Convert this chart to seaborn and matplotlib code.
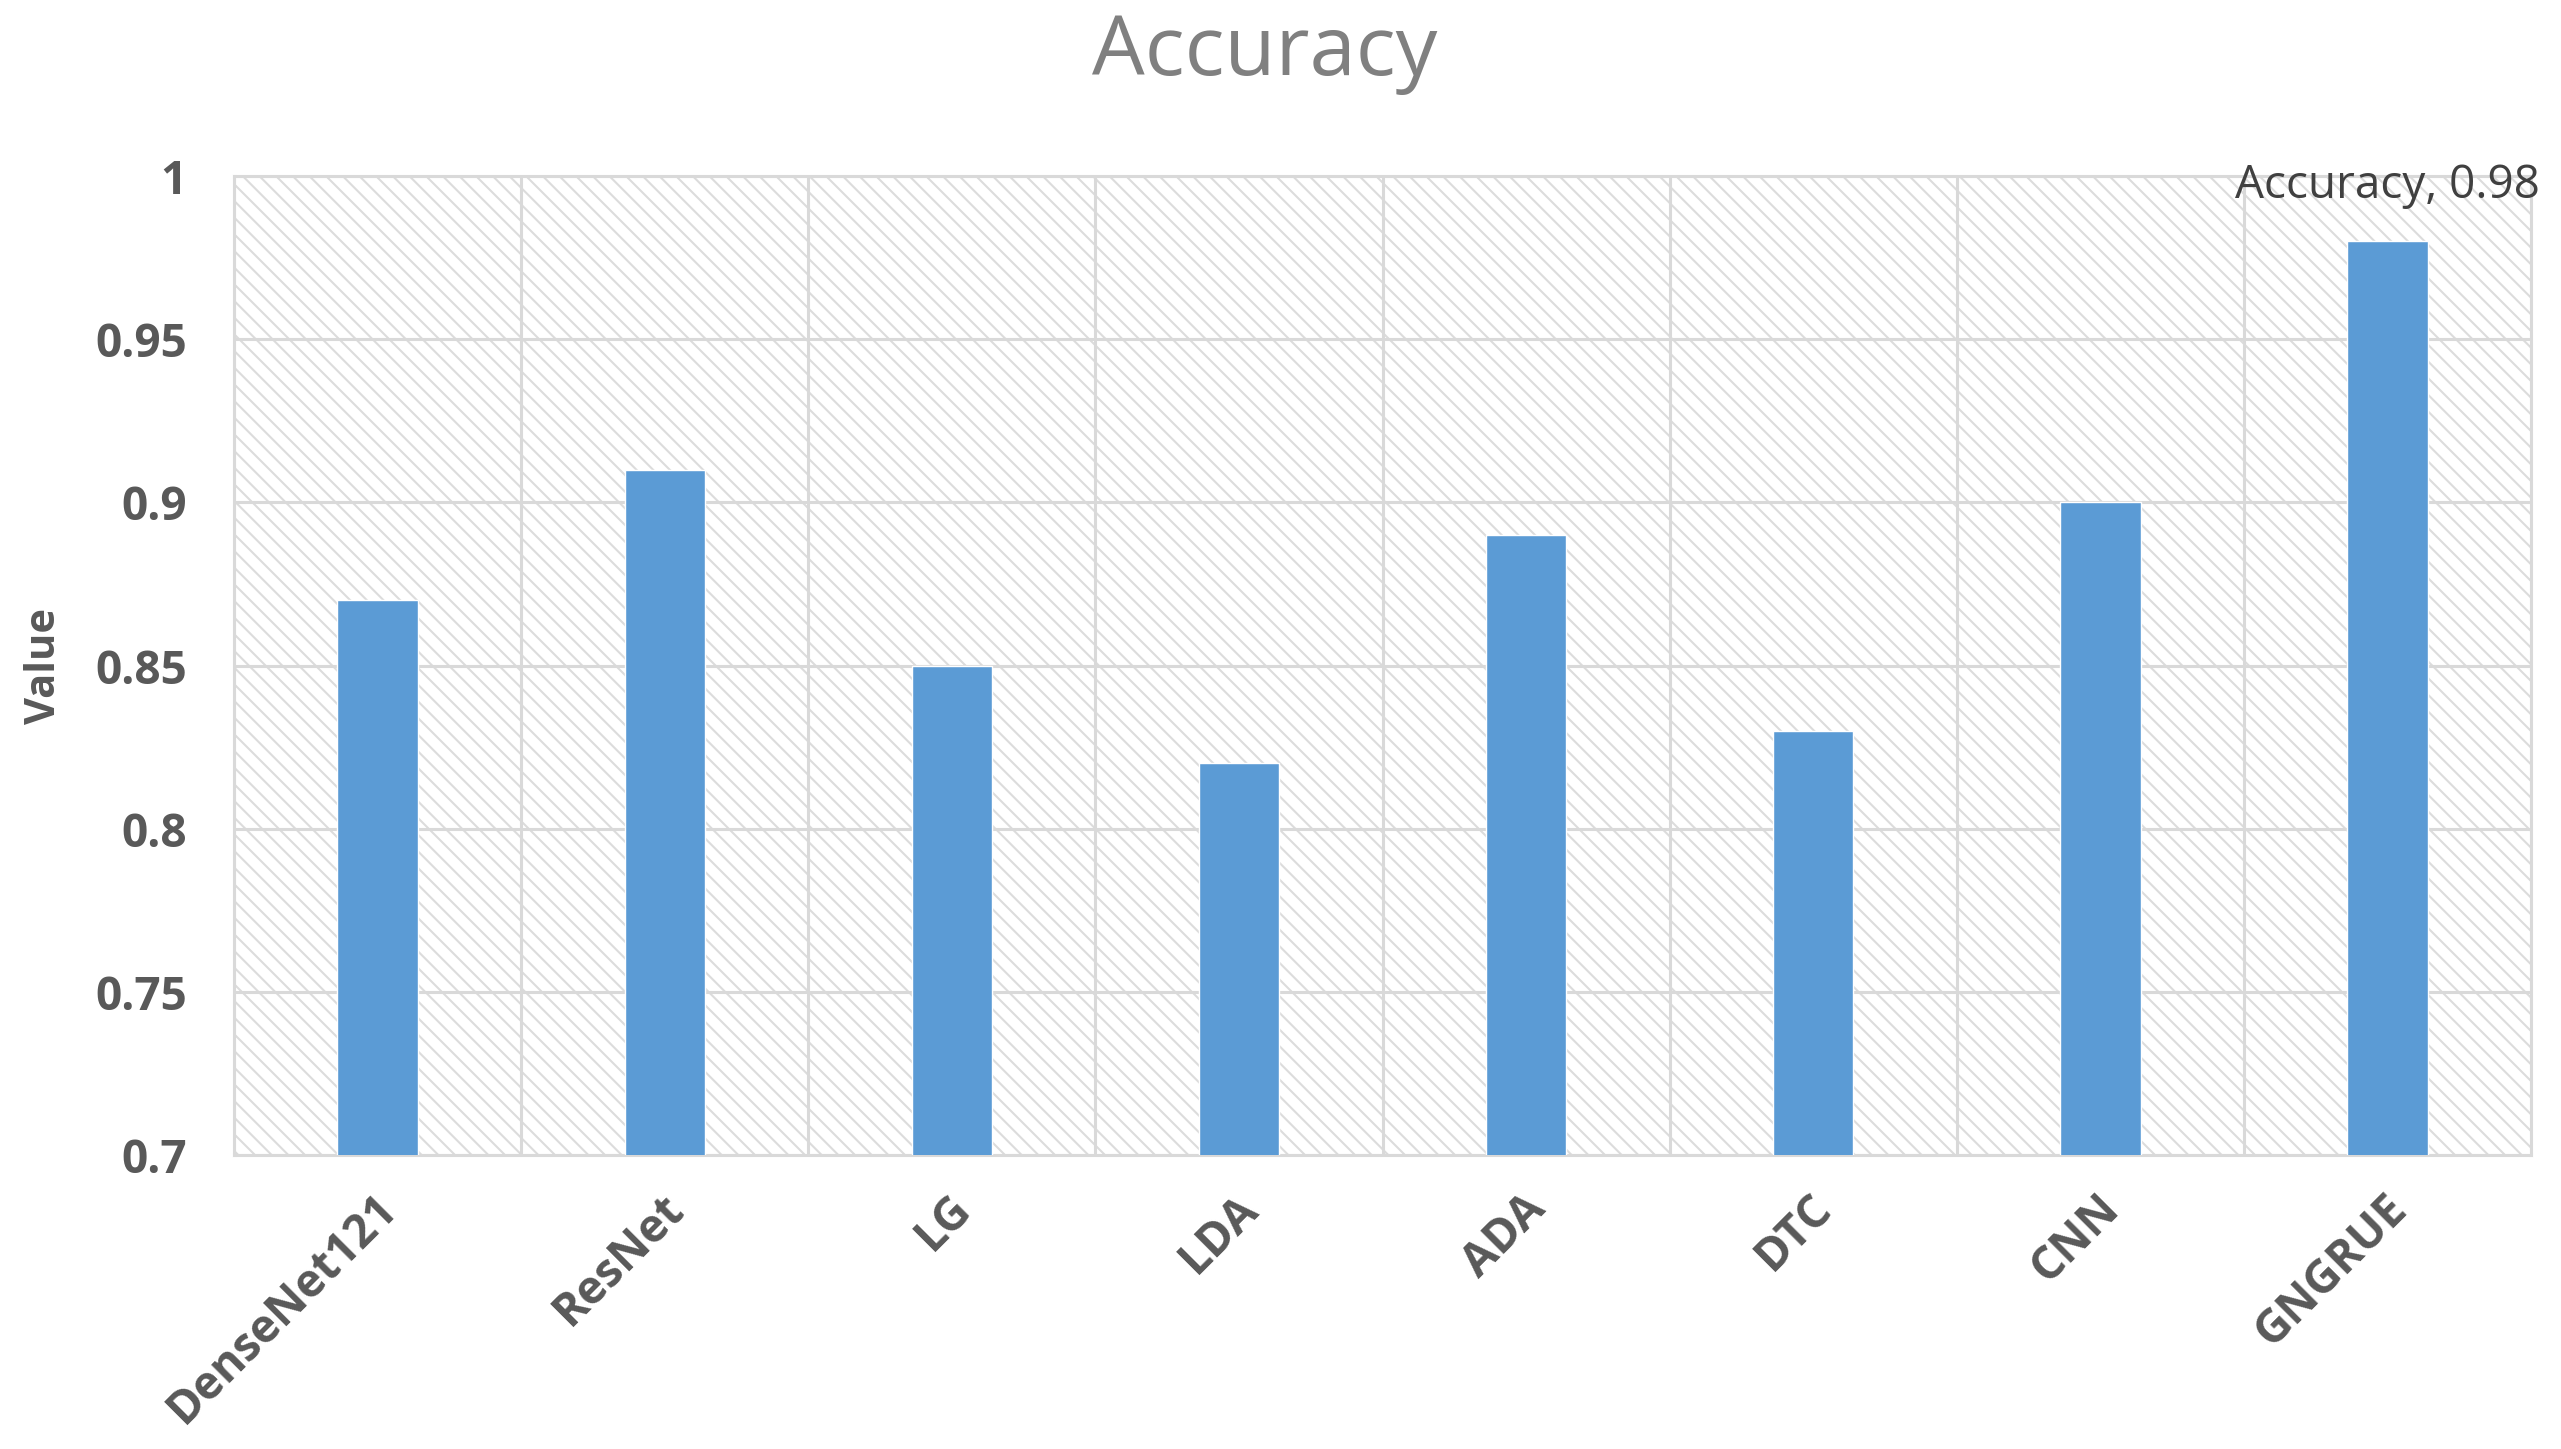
import matplotlib
matplotlib.use("Agg")
import matplotlib.pyplot as plt
import matplotlib.transforms as mtransforms
from matplotlib.patches import Rectangle
import seaborn as sns
import pandas as pd

# Chart data
models = ["DenseNet121", "ResNet", "LG", "LDA", "ADA", "DTC", "CNN", "GNGRUE"]
accuracy = [0.87, 0.91, 0.85, 0.82, 0.89, 0.83, 0.90, 0.98]
y_ticks = [0.7, 0.75, 0.8, 0.85, 0.9, 0.95, 1.0]
y_tick_labels = ["0.7", "0.75", "0.8", "0.85", "0.9", "0.95", "1"]

df = pd.DataFrame({"Model": models, "Accuracy": accuracy})

sns.set_style("white")
plt.rcParams["font.family"] = ["Open Sans", "DejaVu Sans"]

grid_col = "#D9D9D9"
bar_col = "#5B9BD5"
text_col = "#595959"

fig = plt.figure(figsize=(25.61, 14.49), dpi=100)
ax = fig.add_axes([0.0914, 0.2029, 0.8969, 0.6756])

# hatched plot area background
plt.rcParams["hatch.linewidth"] = 1.5
bg = Rectangle((0, 0), 1, 1, transform=ax.transAxes, facecolor="white",
               edgecolor="#DCDCDC", hatch="\\\\", lw=0, zorder=0.1)
ax.add_patch(bg)

sns.barplot(data=df, x="Model", y="Accuracy", color=bar_col, saturation=1,
            width=0.28, ax=ax, zorder=3)

ax.set_ylim(0.7, 1.0)
ax.set_xlim(-0.5, len(models) - 0.5)
ax.set_yticks(y_ticks)
ax.set_yticklabels(y_tick_labels)

# grid: horizontal at ticks, vertical between categories
ax.set_xticks([i - 0.5 for i in range(len(models) + 1)], minor=True)
ax.grid(axis="y", which="major", color=grid_col, lw=2.2, zorder=1)
ax.grid(axis="x", which="minor", color=grid_col, lw=2.2, zorder=1)
ax.set_axisbelow(True)
for s in ax.spines.values():
    s.set_color(grid_col)
    s.set_linewidth(2.2)
    s.set_visible(True)

ax.tick_params(axis="both", which="both", length=0)
ax.tick_params(axis="y", pad=34, labelsize=33, labelcolor=text_col)
ax.tick_params(axis="x", pad=30, labelsize=33, labelcolor=text_col)
for lab in ax.get_yticklabels():
    lab.set_fontweight("bold")
offset = mtransforms.ScaledTranslation(0.12, -0.05, fig.dpi_scale_trans)
for lab in ax.get_xticklabels():
    lab.set_rotation(45)
    lab.set_ha("right")
    lab.set_va("center")
    lab.set_rotation_mode("anchor")
    lab.set_fontweight("bold")
    lab.set_transform(lab.get_transform() + offset)

ax.set_xlabel("")
ax.set_ylabel("Value", fontsize=30, fontweight="bold", color=text_col, labelpad=22)

# data label for the best model
best = len(models) - 1
ax.annotate(f"Accuracy, {accuracy[best]:g}", xy=(best, accuracy[best]),
            xytext=(0, 40), textcoords="offset points", ha="center", va="center",
            fontsize=33, color="#404040", zorder=5, annotation_clip=False)

fig.text(0.494, 0.963, "Accuracy", ha="center", va="center", fontsize=60,
         color="#808080")

fig.savefig("out.png", dpi=100)
